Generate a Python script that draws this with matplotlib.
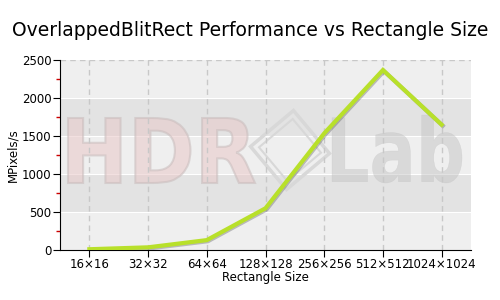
import matplotlib
matplotlib.use("Agg")
import matplotlib.pyplot as plt
import matplotlib.patheffects as pe
from matplotlib.patches import Polygon, PathPatch
from matplotlib.textpath import TextPath
from matplotlib.font_manager import FontProperties
import matplotlib.transforms as mt
import numpy as np

categories = ["16×16", "32×32", "64×64", "128×128", "256×256", "512×512", "1024×1024"]
values = [10, 35, 130, 549, 1535, 2368, 1649]
yticks = [0, 500, 1000, 1500, 2000, 2500]

plt.rcParams['font.family'] = ['DejaVu Sans']
fig = plt.figure(figsize=(5, 3), dpi=100)
ax = fig.add_axes([0.12, 0.1667, 0.822, 0.6333])

x = np.arange(len(categories))
ax.set_xlim(-0.5, len(categories) - 0.5)
ax.set_ylim(0, 2500)

# alternating bands
for i in range(5):
    col = '#efefef' if i % 2 == 0 else '#e3e3e3'
    ax.axhspan(yticks[i], yticks[i + 1], color=col, zorder=0, lw=0)
for yv in yticks[1:-1]:
    ax.axhline(yv, color='white', lw=0.8, zorder=0.5)
ax.axhline(2500, color='#c8c8c8', lw=1, ls=(0, (4, 3)), zorder=1)

# watermark text fitted to pixel boxes
H = 300
def watermark(s, x0, x1, ytop, ybot, fc, ec, lw, alpha):
    tp = TextPath((0, 0), s, size=50, prop=FontProperties(family='DejaVu Sans', weight='bold'))
    bb = tp.get_extents()
    sx = (x1 - x0) / bb.width
    sy = (ybot - ytop) / bb.height
    tr = mt.Affine2D().translate(-bb.x0, -bb.y0).scale(sx, sy).translate(x0, H - ybot)
    patch = PathPatch(tp, transform=tr, fc=fc, ec=ec, lw=lw, zorder=0.8, alpha=alpha)
    ax.add_artist(patch)

watermark("HDR", 68, 255, 118, 183, '#e8c8c8', '#c8bcbc', 1.5, 0.55)
watermark("Lab", 332, 462, 115, 183, '#c0c0c0', '#c0c0c0', 0.3, 0.45)

# rotated square logo (display pixels)
cx, cy, half = 290, H - 150, 28
ang = np.deg2rad(40)
for h, lw in [(half, 2.5), (half - 6, 1.5)]:
    pts = []
    for k in range(4):
        a = ang + k * np.pi / 2 + np.pi / 4
        pts.append((cx + h * np.sqrt(2) * np.cos(a), cy + h * np.sqrt(2) * np.sin(a)))
    poly = Polygon(pts, closed=True, fill=False, ec='#d8d8d8', lw=lw, zorder=0.8,
                   transform=mt.IdentityTransform())
    ax.add_artist(poly)

for xi in x:
    ax.axvline(xi, color='#c8c8c8', lw=1, ls=(0, (4, 3)), zorder=1)

ax.plot(x, values, color='#b8e02a', lw=3, zorder=3, solid_joinstyle='miter',
        path_effects=[pe.SimpleLineShadow(offset=(0.8, -0.8), shadow_color='#555555', alpha=0.35),
                      pe.Normal()])

ax.set_xticks(x)
ax.set_xticklabels(categories, fontsize=8.5)
ax.set_yticks(yticks)
ax.set_yticklabels([str(v) for v in yticks], fontsize=8.5)
ax.set_yticks([250, 750, 1250, 1750, 2250], minor=True)
ax.tick_params(axis='y', which='minor', length=3, color='#cc0000', width=1)
ax.tick_params(axis='both', which='major', length=5, color='black', pad=1)

for s in ['top', 'right']:
    ax.spines[s].set_visible(False)
ax.spines['left'].set_color('black')
ax.spines['bottom'].set_color('black')

ax.set_xlabel("Rectangle Size", fontsize=8.5, labelpad=0)
ax.set_ylabel("MPixels/s", fontsize=8.5, labelpad=2)
fig.suptitle("OverlappedBlitRect Performance vs Rectangle Size", fontsize=13.5, y=0.93)

fig.savefig("out.png", dpi=100)
